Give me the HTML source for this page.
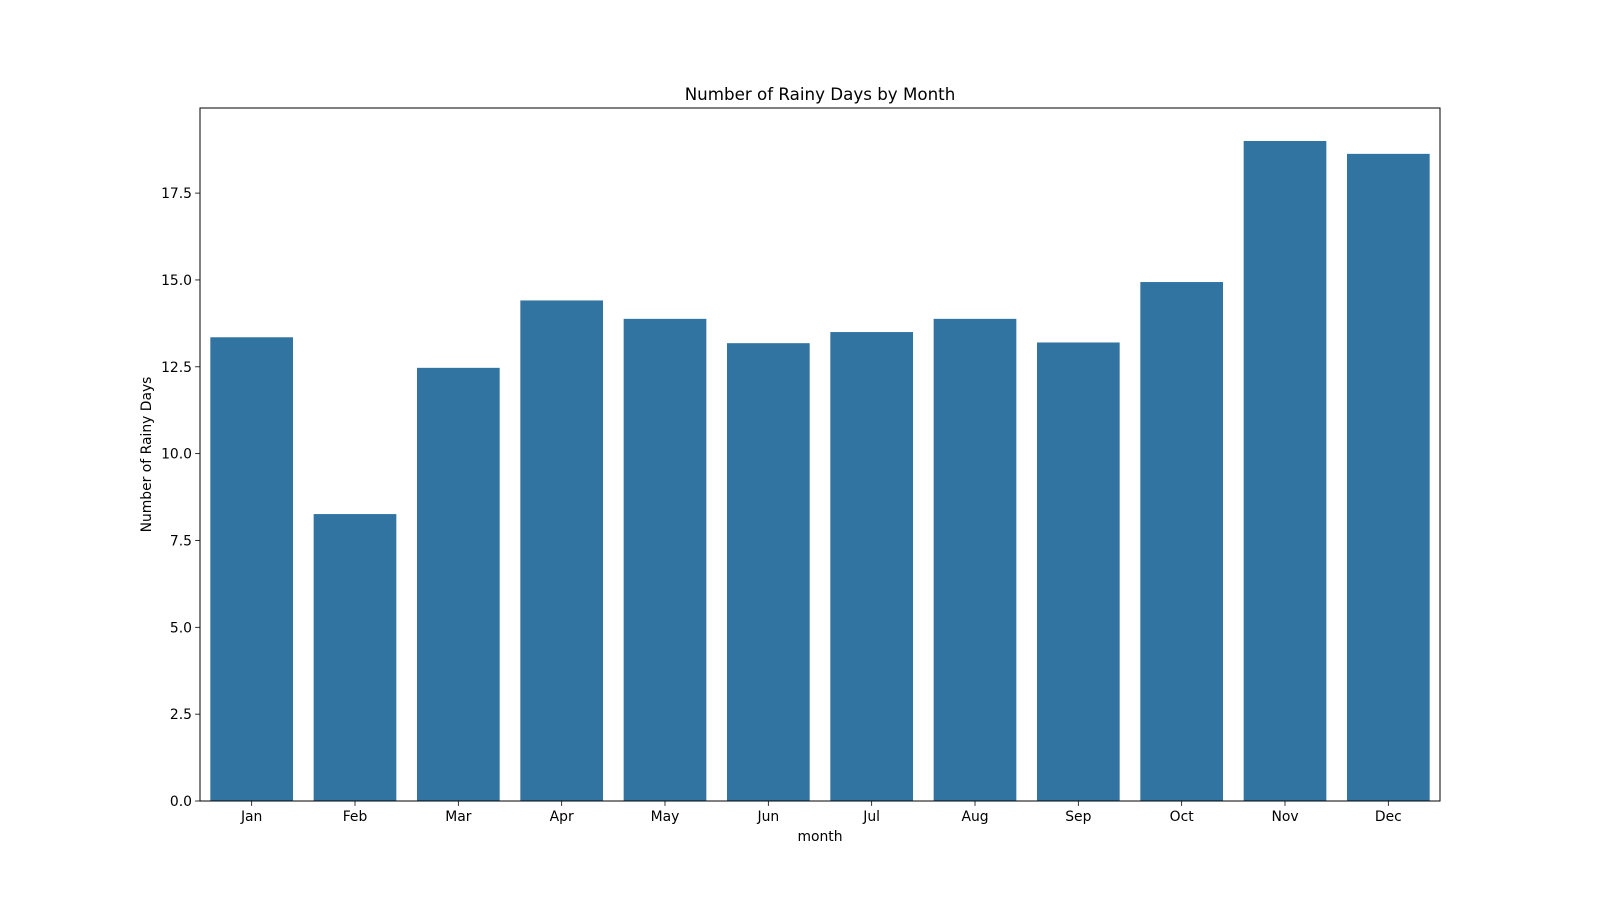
<!DOCTYPE html>
<html><head><meta charset="utf-8"><style>
body{margin:0;background:#fff}
svg text{font-family:"DejaVu Sans","Liberation Sans",sans-serif;fill:#000}
</style></head><body>
<svg id="chart" width="1600" height="900" xmlns="http://www.w3.org/2000/svg">
<rect width="1600" height="900" fill="#fff"/>
<g id="bars"></g>
<g id="axes"></g>
<text x="820" y="100" font-size="16.7" text-anchor="middle">Number of Rainy Days by Month</text>
<text x="820" y="841" font-size="13.9" text-anchor="middle">month</text>
<text transform="translate(151,454.5) rotate(-90)" font-size="13.9" text-anchor="middle">Number of Rainy Days</text>
</svg>
<script>
const categories = ["Jan","Feb","Mar","Apr","May","Jun","Jul","Aug","Sep","Oct","Nov","Dec"];
const values = [13.35, 8.26, 12.47, 14.41, 13.88, 13.18, 13.5, 13.88, 13.2, 14.94, 19.0, 18.63];
const yTicks = [0, 2.5, 5, 7.5, 10, 12.5, 15, 17.5];
const yTickLabels = ["0.0","2.5","5.0","7.5","10.0","12.5","15.0","17.5"];

const NS="http://www.w3.org/2000/svg";
const L=200,R=1440,T=108,B=801;
const yMax=Math.max(...values)*1.05;
const y=v=>B-(v/yMax)*(B-T);
const band=(R-L)/categories.length;
const xc=i=>L+band*(i+0.5);
const bars=document.getElementById('bars'), axes=document.getElementById('axes');
function mk(tag,attrs,parent){const e=document.createElementNS(NS,tag);for(const k in attrs)e.setAttribute(k,attrs[k]);parent.appendChild(e);return e;}
values.forEach((v,i)=>{
  const r=mk('rect',{x:xc(i)-band*0.4,y:y(v),width:band*0.8,height:B-y(v),fill:'#3274a1'},bars);
  
  
  const t=mk('line',{x1:xc(i),x2:xc(i),y1:B,y2:B+4.9,stroke:'#000','stroke-width':0.8},axes);
  
  
  const lb=mk('text',{x:xc(i),y:B+20,'font-size':13.9,'text-anchor':'middle'},axes);
  lb.textContent=categories[i];
  
  
});
yTicks.forEach((v,i)=>{
  const t=mk('line',{x1:L-4.9,x2:L,y1:y(v),y2:y(v),stroke:'#000','stroke-width':0.8},axes);
  
  
  const lb=mk('text',{x:L-8,y:y(v)+5,'font-size':13.9,'text-anchor':'end'},axes);
  lb.textContent=yTickLabels[i];
  
  
});
const fr=mk('rect',{x:L,y:T,width:R-L,height:B-T,fill:'none',stroke:'#000','stroke-width':1},axes);


</script>
</body></html>
